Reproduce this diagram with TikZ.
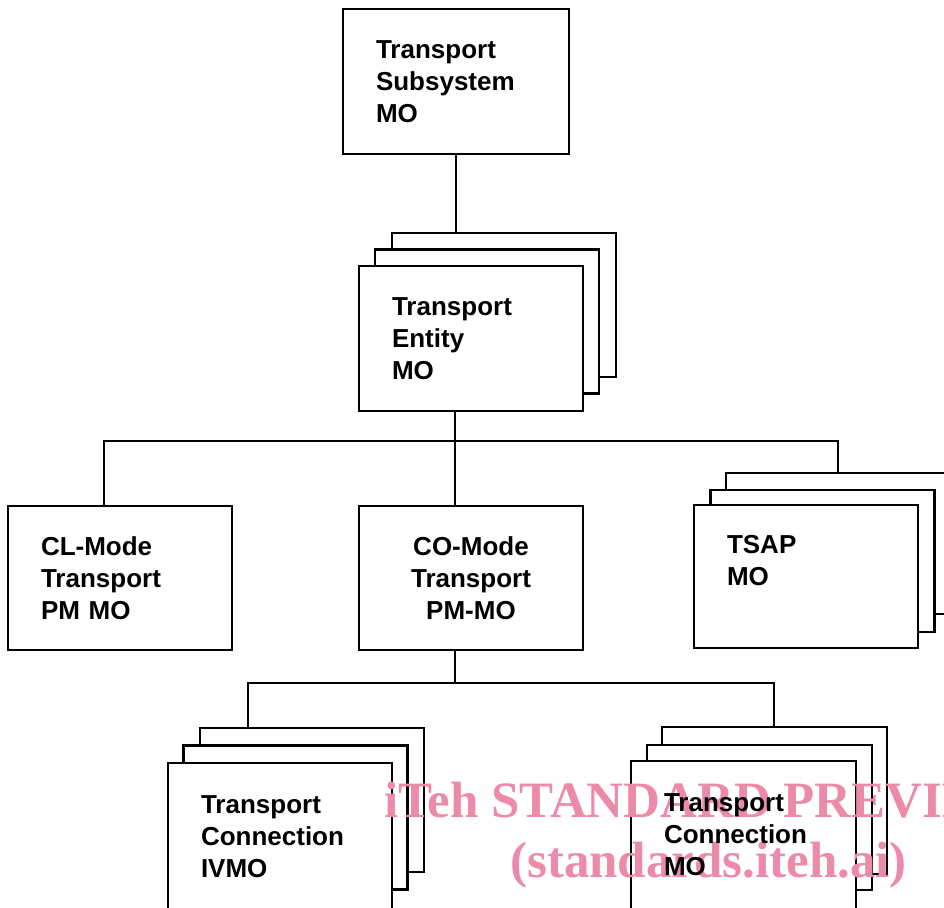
\documentclass[tikz,border=0pt]{standalone}
\usepackage{fontspec}
\newfontfamily\mofamily{Liberation Sans}
\newfontfamily\wmfamily{Liberation Serif}
\definecolor{wmpink}{RGB}{236,139,168}
\tikzset{
  box/.style={draw, line width=2.8pt, fill=white, minimum width=224pt, minimum height=144pt, inner sep=0pt, outer sep=0pt},
  motext/.style={text width=158pt, inner xsep=33pt, inner ysep=0pt, align=left, font=\mofamily\bfseries\fontsize{26}{32}\selectfont},
  mo/.style={box, motext},
  conn/.style={line width=2.8pt},
  wm/.style={text=wmpink, anchor=base west, inner sep=0pt, font=\wmfamily\bfseries\fontsize{51}{60}\selectfont}
}
\begin{document}
\begin{tikzpicture}[x=1pt,y=-1pt]
\useasboundingbox (0,0) rectangle (944,907);
% top
\node[mo, minimum width=226pt, minimum height=145pt, text width=160pt] (sub) at (456,81.5) {Transport\\Subsystem\\MO};
% transport entity stack
\node[box] (entB) at (504,305) {};
\node[box] (entM) at (487,321.5) {};
\node[mo, minimum height=145pt] (ent) at (471,338.5) {Transport\\Entity\\MO};
% second level
\node[mo] (cl) at (120,578) {CL-Mode\\Transport\\PM MO};
\node[mo, align=center] (co) at (471,578) {CO-Mode\\Transport\\PM-MO};
\node[box, minimum height=141pt] (tsapB) at (838,543.5) {};
\node[box, minimum height=142pt] (tsapM) at (822.5,561) {};
\node[mo, minimum height=143pt] (tsap) at (806,576.5) {TSAP\\MO\\\phantom{M}};
% third level
\node[box] (tclB) at (312,800) {};
\node[box] (tclM) at (295.5,817.5) {};
\node[mo, minimum height=148pt] (tcl) at (280,837) {Transport\\Connection\\IVMO};
\node[box, minimum width=225pt, minimum height=147pt] (tcrB) at (774.5,800.5) {};
\node[box, minimum width=225pt, minimum height=145pt] (tcrM) at (759.5,817.5) {};
\node[box, minimum width=225pt, minimum height=148pt] (tcr) at (743.5,835) {};
% connectors
\coordinate (b1) at (455,441);
\coordinate (b1l) at (104,441);
\coordinate (b1r) at (838,441);
\coordinate (b2) at (455,683);
\coordinate (b2l) at (248,683);
\coordinate (b2r) at (774,683);
\draw[conn] (sub.south) -- (sub.south |- entB.north);
\draw[conn] (b1 |- ent.south) -- (b1 |- co.north);
\draw[conn] (b1l |- cl.north) -- (b1l) -- (b1r) -- (b1r |- tsapB.north);
\draw[conn] (b2 |- co.south) -- (b2);
\draw[conn] (b2l |- tclB.north) -- (b2l) -- (b2r) -- (b2r |- tcrB.north);
% watermark
\node[wm] (wm1) at (384,817) {iTeh STANDARD PREVIEW};
\node[wm] (wm2) at (510,877) {(standards.iteh.ai)};
% text of the last box, printed over the watermark
\node[motext, text width=159pt, minimum width=225pt, minimum height=148pt] (tcrtext) at (tcr.center) {Transport\\Connection\\MO};
\end{tikzpicture}
\end{document}
